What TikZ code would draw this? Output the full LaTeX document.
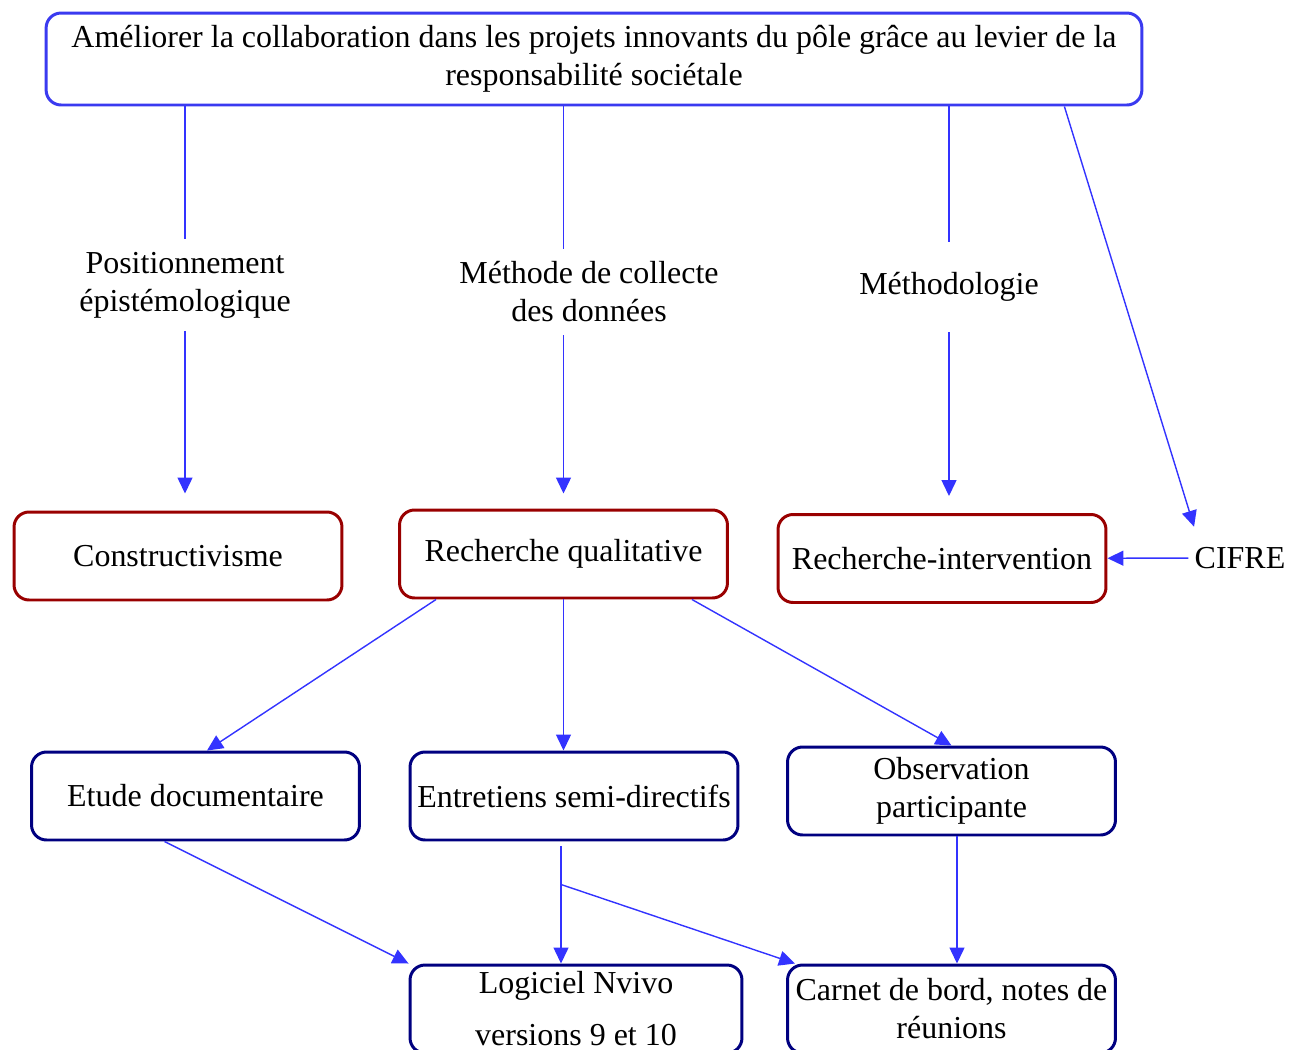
\documentclass[tikz,border=0pt]{standalone}
\usepackage{fontspec}
\setmainfont{Liberation Serif}
\usetikzlibrary{positioning, arrows.meta, calc}
\definecolor{linkblue}{RGB}{51,51,255}
\definecolor{frameblue}{RGB}{58,58,240}
\definecolor{framered}{RGB}{153,0,0}
\definecolor{framenavy}{RGB}{0,0,128}

\begin{document}
\begin{tikzpicture}[x=0.02cm, y=-0.02cm,
  font=\fontsize{18.2}{21.6}\selectfont,
  box/.style={draw, line width=1.7pt, rounded corners=0.3cm, align=center, inner sep=0.08cm},
  topbox/.style={box, draw=frameblue, minimum width=21.92cm, minimum height=1.84cm},
  redbox/.style={box, draw=framered, minimum width=6.56cm, minimum height=1.76cm},
  navybox/.style={box, draw=framenavy, minimum width=6.56cm, minimum height=1.76cm},
  tag/.style={align=center, inner sep=0.25cm},
  link/.style={draw=linkblue, line width=0.8pt},
  arr/.style={link, -{Triangle[length=0.32cm, width=0.3cm]}}]
\useasboundingbox (0,0) rectangle (1289,1049);
\clip (0,0) rectangle (1289,1049);

\node[topbox] (goal) at (594,59)
  {Améliorer la collaboration dans les projets innovants du pôle grâce au levier de la\\responsabilité sociétale};

% the three angles and their answers
\node[tag] (episto) at (185,285) {Positionnement\\épistémologique};
\node[tag] (collecte) at (589,292) {Méthode de collecte\\des données};
\node[tag, minimum height=1.8cm] (methodo) at (949,287) {Méthodologie};
\node (cifre) at (1240,558) {CIFRE};

\node[redbox] (constr) at (178,556) {Constructivisme};
\node[redbox] (quali) at (563.5,554) {Recherche qualitative};
\node[redbox] (interv) at (942,558.5) {Recherche-intervention};

\node[navybox] (docu) at (195.5,796) {Etude documentaire};
\node[navybox] (entret) at (574,796) {Entretiens semi-directifs};
\node[navybox] (obs) at (951.5,791) {Observation\\participante};
\node[navybox, minimum width=6.64cm] (nvivo) at (576,1009) {Logiciel Nvivo\\[0.28cm]versions 9 et 10};
\node[navybox] (carnet) at (951.5,1009) {Carnet de bord, notes de\\réunions};

\draw[link] (goal.south -| episto) -- (episto);
\draw[arr, shorten >=0.34cm] (episto) -- (episto |- constr.north);
\draw[link] (goal.south -| quali) -- (quali |- collecte.north);
\draw[arr, shorten >=0.3cm] (quali |- collecte.south) -- (quali.north);
\draw[link] (goal.south -| methodo) -- (methodo);
\draw[arr, shorten >=0.34cm] (methodo) -- (methodo |- interv.north);
\draw[arr, shorten >=0.3cm] ([xshift=-1.58cm]goal.south east) -- ([xshift=0.2cm]cifre.north west);
\draw[arr] (cifre) -- (interv);

\draw[arr] ([xshift=0.76cm]quali.south west) -- ([xshift=0.23cm]docu.north);
\draw[arr] (quali.south) -- (quali.south |- entret.north);
\draw[arr] ([xshift=-0.74cm]quali.south east) -- (obs.north);

\draw[arr] ([xshift=-0.62cm]docu.south) -- (nvivo.north west);
\coordinate (fork) at ([xshift=-0.26cm, yshift=-0.86cm]entret.south);
\draw[link] ([xshift=-0.26cm, yshift=-0.1cm]entret.south) -- (fork);
\draw[arr] (fork) -- (fork |- nvivo.north);
\draw[arr] (fork) -- ([xshift=0.18cm]carnet.north west);
\draw[arr] ([xshift=0.11cm]obs.south) -- ([xshift=0.11cm]obs.south |- carnet.north);
\end{tikzpicture}
\end{document}
